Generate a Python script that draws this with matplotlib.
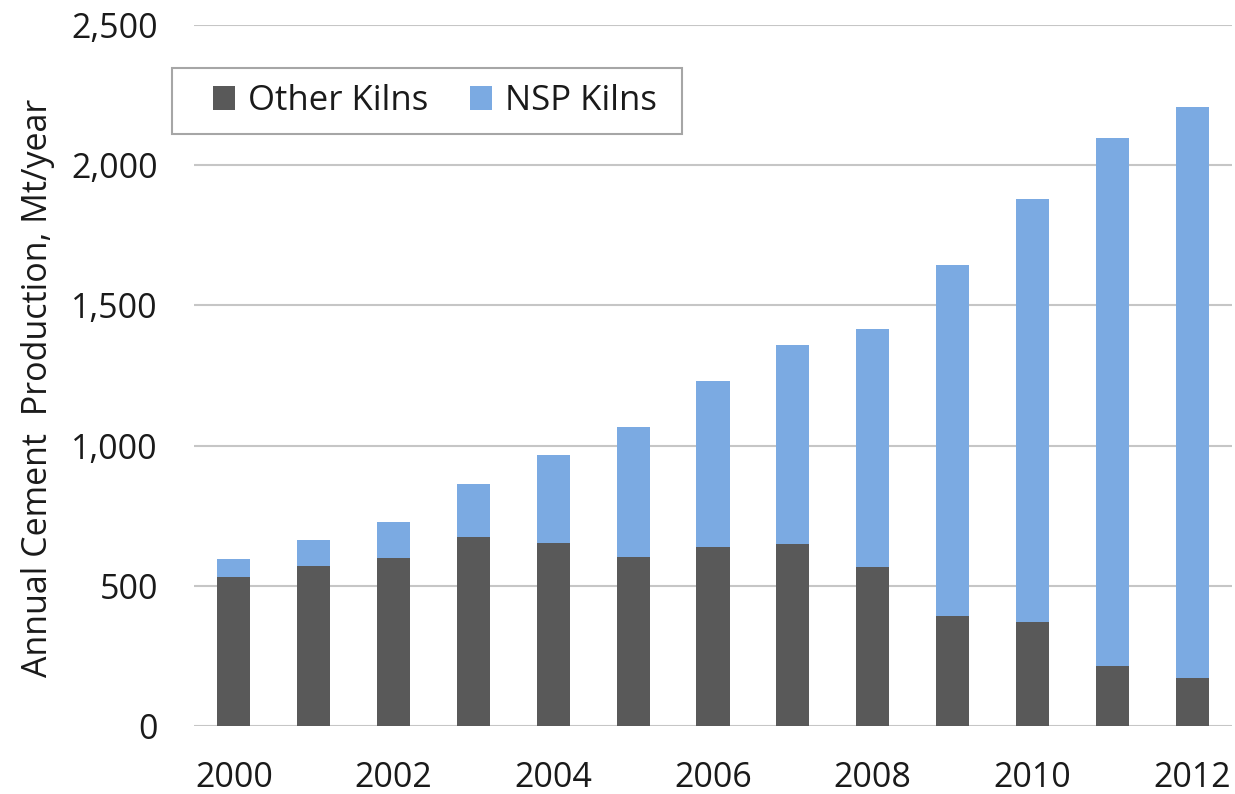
import matplotlib.pyplot as plt
from matplotlib.patches import Rectangle
from matplotlib.ticker import StrMethodFormatter

years = [2000, 2001, 2002, 2003, 2004, 2005, 2006, 2007, 2008, 2009, 2010, 2011, 2012]
other_kilns = [533, 570, 600, 675, 651, 601, 637, 650, 568, 393, 370, 213, 170]
nsp_kilns = [62, 93, 126, 187, 316, 465, 595, 707, 849, 1250, 1508, 1883, 2037]

DARK = '#595959'
BLUE = '#7BAAE2'
GRID = '#c6c6c6'
TEXT = '#1a1a1a'

plt.rcParams['font.family'] = ['Open Sans', 'DejaVu Sans']


def main():
    fig = plt.figure(figsize=(12.35, 7.94), dpi=100)
    ax = fig.add_axes([194 / 1235, 68 / 794, 1038 / 1235, 701 / 794])

    x = list(range(len(years)))
    ax.bar(x, other_kilns, width=0.414, color=DARK, label='Other Kilns', zorder=3)
    ax.bar(x, nsp_kilns, width=0.414, bottom=other_kilns, color=BLUE,
           label='NSP Kilns', zorder=3)

    ax.set_xlim(-0.5, len(years) - 0.5)
    ax.set_ylim(0, 2500)
    ax.set_yticks(range(0, 2501, 500))
    ax.yaxis.set_major_formatter(StrMethodFormatter('{x:,.0f}'))
    ax.set_xticks(x[::2])
    ax.set_xticklabels([str(y) for y in years[::2]])

    ax.grid(axis='y', color=GRID, linewidth=1.5, zorder=0)
    for s in ax.spines.values():
        s.set_visible(False)
    ax.tick_params(axis='both', length=0, labelsize=24.5, colors=TEXT)
    ax.tick_params(axis='x', pad=25.5)
    ax.tick_params(axis='y', pad=26)

    ax.set_ylabel('Annual Cement  Production, Mt/year', fontsize=24.5, color=TEXT,
                  labelpad=12)
    ax.yaxis.label.set_y(0.482)

    # legend entries without their own frame; the box is drawn wider on its own
    leg = ax.legend(loc='center left', bbox_to_anchor=(213 / 1235, 1 - 101 / 794),
                    bbox_transform=fig.transFigure, borderaxespad=0, borderpad=0,
                    ncol=2, fontsize=25, frameon=False,
                    handlelength=0.63, handleheight=0.7, handletextpad=0.37,
                    columnspacing=1.21)
    for t in leg.get_texts():
        t.set_color(TEXT)
    fig.patches.append(Rectangle((172 / 1235, 1 - 134 / 794), 510 / 1235, 66 / 794,
                                 transform=fig.transFigure, fill=False,
                                 edgecolor='#a6a6a6', linewidth=1.5))

    fig.savefig('out.png', dpi=100, facecolor='white')


if __name__ == '__main__':
    main()
